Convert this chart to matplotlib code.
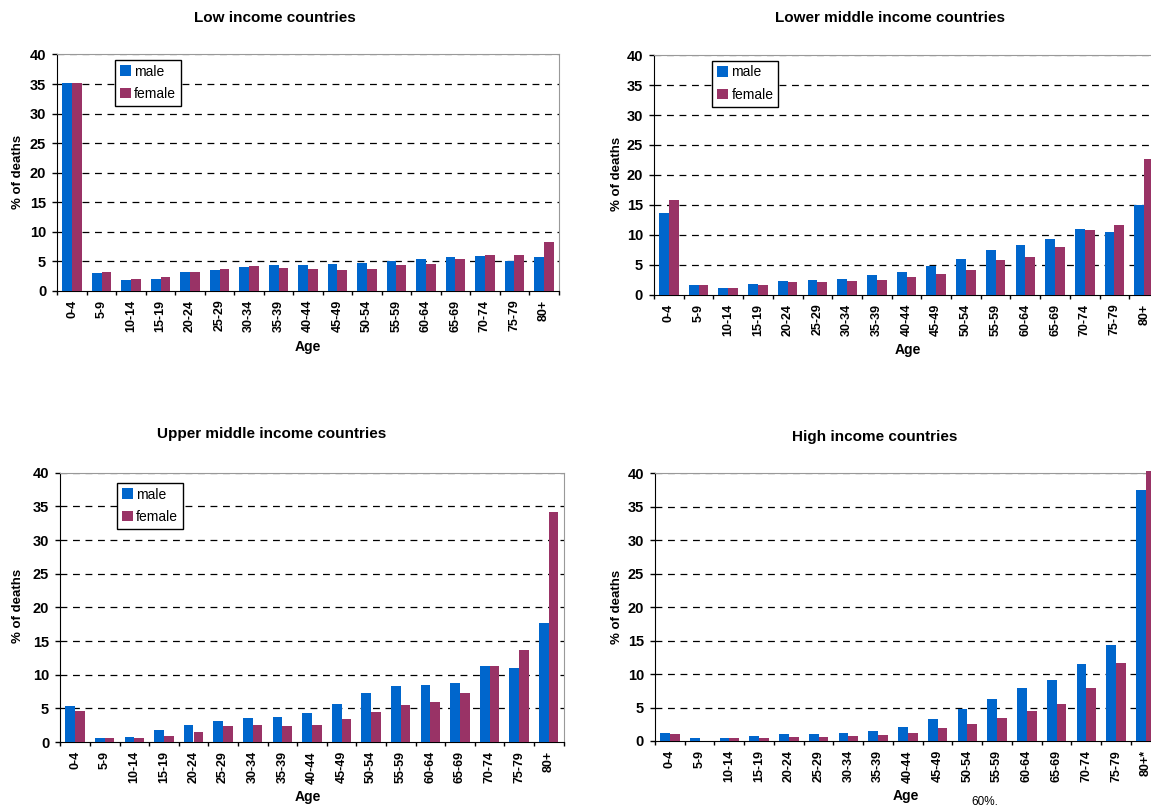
import matplotlib
matplotlib.use("Agg")
import matplotlib.pyplot as plt
import numpy as np

plt.rcParams['font.family'] = ['Liberation Sans', 'DejaVu Sans']

# ---- data ----
age_groups = ['0-4', '5-9', '10-14', '15-19', '20-24', '25-29', '30-34', '35-39',
              '40-44', '45-49', '50-54', '55-59', '60-64', '65-69', '70-74', '75-79', '80+']
age_groups_high = age_groups[:-1] + ['80+*']

low_male = [35.1, 2.95, 1.85, 2.05, 3.2, 3.55, 3.95, 4.35, 4.35, 4.5, 4.7, 5.1, 5.3, 5.65, 5.8, 5.1, 5.65]
low_female = [35.1, 3.2, 2.05, 2.25, 3.2, 3.75, 4.15, 3.9, 3.75, 3.55, 3.75, 4.3, 4.5, 5.45, 6.05, 6.05, 8.3]

lower_mid_male = [13.6, 1.55, 1.15, 1.7, 2.3, 2.5, 2.65, 3.2, 3.8, 4.7, 6.0, 7.45, 8.2, 9.3, 10.95, 10.45, 15.0]
lower_mid_female = [15.8, 1.55, 1.15, 1.55, 2.05, 2.05, 2.3, 2.5, 2.85, 3.4, 4.15, 5.7, 6.35, 8.0, 10.8, 11.55, 22.65]

upper_mid_male = [5.35, 0.6, 0.75, 1.75, 2.55, 3.05, 3.5, 3.65, 4.3, 5.65, 7.35, 8.3, 8.5, 8.8, 11.25, 10.95, 17.65]
upper_mid_female = [4.6, 0.6, 0.6, 0.9, 1.55, 2.4, 2.55, 2.4, 2.55, 3.4, 4.5, 5.45, 6.0, 7.3, 11.25, 13.6, 34.15]

high_male = [1.25, 0.4, 0.45, 0.75, 1.1, 1.1, 1.25, 1.45, 2.1, 3.3, 4.8, 6.25, 7.9, 9.1, 11.5, 14.35, 37.5]
high_female = [1.1, 0.05, 0.45, 0.45, 0.6, 0.6, 0.75, 0.9, 1.25, 1.95, 2.6, 3.4, 4.55, 5.55, 7.9, 11.7, 40.4]

titles = ['Low income countries', 'Lower middle income countries',
          'Upper middle income countries', 'High income countries']

# ---- figure / layout (pixel based) ----
W, H = 1151, 810
fig = plt.figure(figsize=(W / 100, H / 100), dpi=100)

def px_axes(left, right, top, bottom):
    return fig.add_axes([left / W, 1 - bottom / H, (right - left) / W, (bottom - top) / H])

MALE_C = '#0066CC'
FEMALE_C = '#993366'

def draw_panel(ax, male, female, labels, show_right=True):
    x = np.arange(len(labels))
    w = 0.33
    ax.bar(x - w / 2, male, w, color=MALE_C, label='male', zorder=3, clip_on=False)
    ax.bar(x + w / 2, female, w, color=FEMALE_C, label='female', zorder=3, clip_on=False)
    ax.set_xlim(-0.5, len(labels) - 0.5)
    ax.set_ylim(0, 40)
    ax.set_yticks(np.arange(0, 41, 5))
    ax.set_yticklabels([str(v) for v in range(0, 41, 5)], fontsize=10.5, fontweight='bold')
    ax.set_xticks(x)
    ax.set_xticklabels(labels, rotation=90, fontsize=9, fontweight='bold')
    ax.set_xticks(np.arange(-0.5, len(labels)), minor=True)
    ax.tick_params(axis='x', which='major', length=0, pad=6.5)
    ax.tick_params(axis='x', which='minor', length=3, direction='out', width=1)
    ax.tick_params(axis='y', length=3.5, width=1, pad=4.5)
    for yv in range(5, 41, 5):
        ax.axhline(yv, color='black' if yv < 40 else '#555555', lw=0.9,
                   dashes=(5.5, 4.5), zorder=1)
    ax.spines['left'].set_color('black')
    ax.spines['bottom'].set_color('black')
    ax.spines['top'].set_color('#999999')
    ax.spines['right'].set_color('#999999')
    ax.spines['right'].set_visible(show_right)

# top-left
ax1 = px_axes(57.3, 558.7, 54.5, 290.7)
draw_panel(ax1, low_male, low_female, age_groups)
# top-right (runs past the right edge of the picture)
ax2 = px_axes(654, 1159, 55.3, 294.5)
draw_panel(ax2, lower_mid_male, lower_mid_female, age_groups, show_right=False)
# bottom-left
ax3 = px_axes(60.3, 563.5, 472.7, 742)
draw_panel(ax3, upper_mid_male, upper_mid_female, age_groups)
# bottom-right
ax4 = px_axes(655, 1160.7, 473.3, 741)
draw_panel(ax4, high_male, high_female, age_groups_high, show_right=False)

def fig_text(xp, yp, s, **kw):
    fig.text(xp / W, 1 - yp / H, s, **kw)

# titles
fig_text(275, 17.5, titles[0], ha='center', va='center', fontsize=11, fontweight='bold')
fig_text(890, 17.5, titles[1], ha='center', va='center', fontsize=11, fontweight='bold')
fig_text(272, 434, titles[2], ha='center', va='center', fontsize=11, fontweight='bold')
fig_text(875, 437, titles[3], ha='center', va='center', fontsize=11, fontweight='bold')

# axis labels
for xp, yp in [(18, 172), (617, 174), (18, 606), (617, 607)]:
    fig_text(xp, yp, '% of deaths', ha='center', va='center', rotation=90,
             fontsize=9.5, fontweight='bold')
for xp, yp in [(308, 347), (908, 350), (308, 797), (906, 796)]:
    fig_text(xp, yp, 'Age', ha='center', va='center', fontsize=10, fontweight='bold')

# legends
for ax, (lx, ly) in [(ax1, (114.7, 59.7)), (ax2, (712, 60.5)), (ax3, (116.7, 482.7))]:
    leg = ax.legend(loc='upper left', bbox_to_anchor=(lx / W, 1 - ly / H),
                    bbox_transform=fig.transFigure, fontsize=10, frameon=True,
                    fancybox=False, edgecolor='black', framealpha=1,
                    handlelength=0.8, handleheight=0.8, handletextpad=0.25,
                    labelspacing=0.6, borderpad=0.35, borderaxespad=0)
    leg.get_frame().set_linewidth(1)
    leg.set_zorder(10)

# stray text at the bottom edge of the page
fig_text(985, 802, '60%.', ha='center', va='center', fontsize=8.5)

fig.savefig('out.png', dpi=100)
